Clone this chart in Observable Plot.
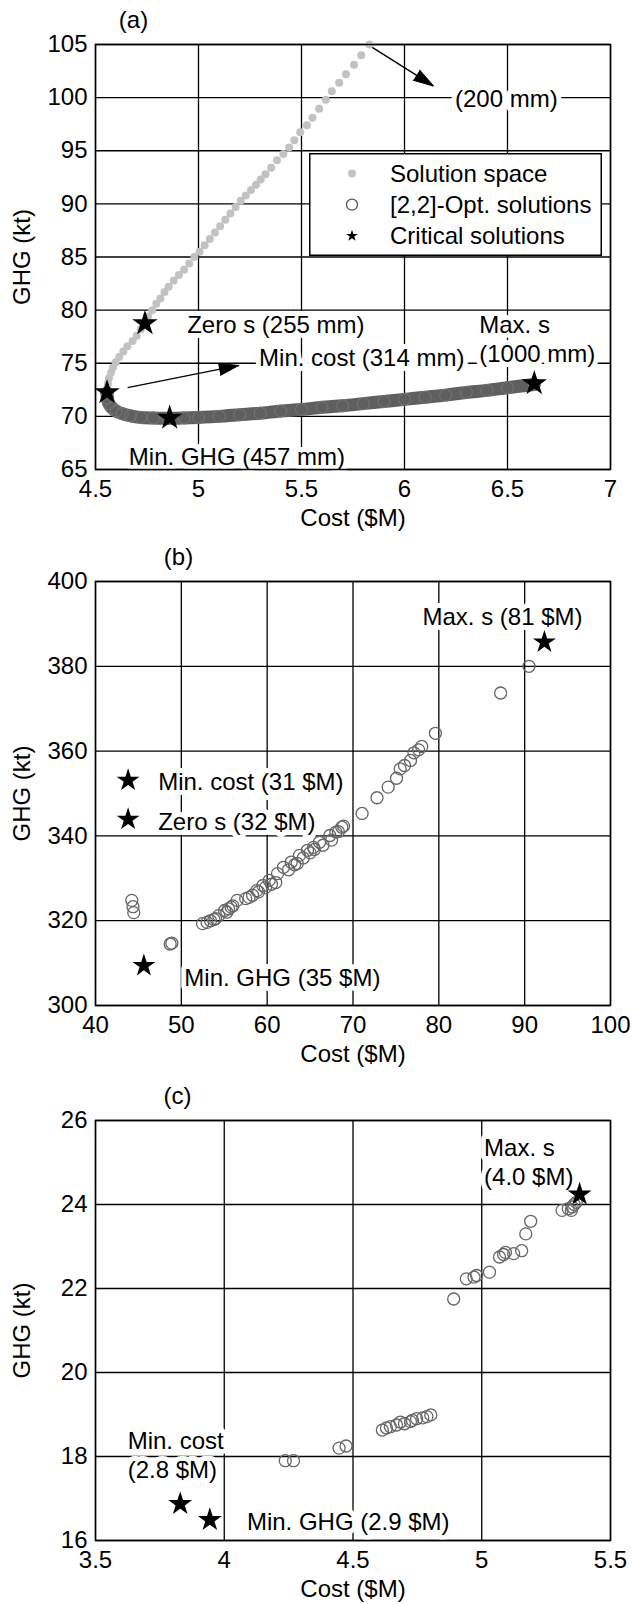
<!DOCTYPE html>
<html><head><meta charset="utf-8">
<script src="https://cdn.jsdelivr.net/npm/d3@7"></script>
<script src="https://cdn.jsdelivr.net/npm/@observablehq/plot@0.6"></script>
<style>
body{margin:0;background:#fff;}
#wrap{position:relative;width:632px;}
#wrap svg{display:block;}
</style></head><body><div id="wrap"></div>
<script>
// ---------- Panel (a) data ----------
const xTicksA = [4.5, 5, 5.5, 6, 6.5, 7];
const yTicksA = [65, 70, 75, 80, 85, 90, 95, 100, 105];
const solutionSpaceA = [
  [5.83,105.0],[5.79,104.0],[5.755,103.1],[5.716,102.2],[5.683,101.4],[5.647,100.6],[5.618,99.8],[5.586,98.95],
  [5.553,98.1],[5.526,97.4],[5.494,96.75],[5.465,96.0],[5.44,95.3],[5.412,94.7],[5.381,94.1],[5.353,93.4],
  [5.325,92.8],[5.302,92.3],[5.279,91.8],[5.255,91.3],[5.23,90.8],[5.205,90.3],[5.18,89.7],[5.155,89.1],
  [5.13,88.5],[5.105,87.9],[5.08,87.3],[5.055,86.7],[5.03,86.1],[5.005,85.5],[4.98,85.0],[4.955,84.4],
  [4.93,83.8],[4.905,83.3],[4.88,82.8],[4.855,82.2],[4.835,81.7],[4.815,81.1],[4.795,80.6],[4.775,80.0],
  [4.755,79.4],[4.74,78.8],[4.72,78.2],[4.70,77.6],[4.68,77.1],[4.655,76.6],[4.635,76.1],[4.615,75.6],
  [4.598,75.1],[4.585,74.6],[4.575,74.1],[4.565,73.6],[4.56,73.1],[4.556,72.6],[4.555,72.2]
].map(([cost, ghg]) => ({cost, ghg}));
const optimalA = [
  [4.556,72.2],[4.558,71.7],[4.565,71.2],[4.58,70.8],[4.60,70.5],[4.63,70.25],[4.67,70.05],[4.72,69.9],
  [4.78,69.85],[4.85,69.82],[4.93,69.85],[5.0,69.9],[5.1,70.0],[5.2,70.15],[5.3,70.3],[5.4,70.5],
  [5.5,70.65],[5.6,70.85],[5.7,71.0],[5.8,71.2],[5.9,71.4],[6.0,71.6],[6.1,71.8],[6.2,72.0],
  [6.3,72.25],[6.4,72.45],[6.5,72.7],[6.63,73.0]
].map(([cost, ghg]) => ({cost, ghg}));
const criticalA = [
  {name: "Zero s", cost: 4.74, ghg: 78.75},
  {name: "Min. cost", cost: 4.556, ghg: 72.25},
  {name: "Min. GHG", cost: 4.86, ghg: 69.85},
  {name: "Max. s", cost: 6.63, ghg: 73.1}
];
const labelsA = [
  {text: "(200 mm)", cost: 6.245, ghg: 100.0},
  {text: "Zero s (255 mm)", cost: 4.945, ghg: 78.7},
  {text: "Min. cost (314 mm)", cost: 5.294, ghg: 75.6},
  {text: "Max. s\n(1000 mm)", cost: 6.363, ghg: 77.35},
  {text: "Min. GHG (457 mm)", cost: 4.662, ghg: 66.3}
];
const arrowsA = [
  {cost1: 5.83, ghg1: 104.9, cost2: 6.14, ghg2: 101.1},
  {cost1: 4.656, ghg1: 72.7, cost2: 5.196, ghg2: 74.8}
];

// ---------- Panel (b) data ----------
const xTicksB = [40, 50, 60, 70, 80, 90, 100];
const yTicksB = [300, 320, 340, 360, 380, 400];
const optimalB = [
  [90.5,380.0],[87.2,373.7],[79.6,364.2],[78.0,361.1],[77.65,360.3],[77.1,359.6],[76.7,357.8],[76.0,356.6],
  [75.5,355.8],[75.07,353.6],[74.1,351.5],[72.8,349.0],[71.06,345.3],[68.7,342.05],[68.9,342.3],[68.3,341.0],
  [68.0,340.9],[67.5,339.0],[67.3,340.1],[66.5,337.8],[66.1,338.5],[65.5,336.8],[65.4,337.3],[65.0,336.0],
  [64.7,336.6],[64.2,334.8],[63.76,335.4],[63.5,333.5],[63.2,333.2],[62.8,333.8],[62.5,332.0],[61.9,332.6],
  [61.2,331.1],[61.0,329.0],[60.5,328.6],[60.24,329.5],[59.8,327.8],[59.5,328.3],[59.0,326.8],[58.8,327.1],
  [58.3,326.0],[57.9,325.5],[57.5,325.2],[56.5,324.8],[56.0,323.5],[55.8,323.2],[55.5,322.8],[55.3,322.0],
  [55.05,322.4],[54.35,321.2],[54.0,320.5],[53.8,320.3],[53.4,320.0],[53.0,319.6],[52.47,319.3],
  [48.7,314.5],[48.9,314.7],[44.23,324.8],[44.37,323.3],[44.46,321.9]
].map(([cost, ghg]) => ({cost, ghg}));
const criticalB = [
  {name: "Max. s", cost: 92.3, ghg: 385.7},
  {name: "Min. cost", cost: 43.8, ghg: 353.1},
  {name: "Zero s", cost: 43.8, ghg: 343.9},
  {name: "Min. GHG", cost: 45.64, ghg: 309.4}
];
const labelsB = [
  {text: "Max. s (81 $M)", cost: 78.1, ghg: 392.0},
  {text: "Min. cost (31 $M)", cost: 47.3, ghg: 353.1},
  {text: "Zero s (32 $M)", cost: 47.3, ghg: 343.6},
  {text: "Min. GHG (35 $M)", cost: 50.35, ghg: 306.7}
];

// ---------- Panel (c) data ----------
const xTicksC = [3.5, 4, 4.5, 5, 5.5];
const yTicksC = [16, 18, 20, 22, 24, 26];
const optimalC = [
  [4.891,21.75],[4.94,22.23],[4.97,22.27],[4.98,22.31],[5.03,22.39],[5.069,22.75],[5.085,22.81],[5.092,22.86],
  [5.124,22.83],[5.155,22.9],[5.171,23.3],[5.19,23.6],[5.312,23.86],[5.336,23.9],[5.348,23.86],[5.351,23.94],
  [5.359,24.0],[5.367,24.05],
  [4.237,17.9],[4.269,17.9],[4.446,18.2],[4.473,18.25],[4.614,18.63],[4.63,18.68],[4.645,18.71],[4.669,18.75],
  [4.684,18.82],[4.70,18.78],[4.723,18.83],[4.731,18.86],[4.747,18.9],[4.771,18.92],[4.787,18.95],[4.802,18.99]
].map(([cost, ghg]) => ({cost, ghg}));
const criticalC = [
  {name: "Max. s", cost: 5.38, ghg: 24.24},
  {name: "Min. cost", cost: 3.829, ghg: 16.87},
  {name: "Min. GHG", cost: 3.944, ghg: 16.49}
];
const labelsC = [
  {text: "Max. s\n(4.0 $M)", cost: 5.009, ghg: 25.02},
  {text: "Min. cost\n(2.8 $M)", cost: 3.625, ghg: 18.05},
  {text: "Min. GHG (2.9 $M)", cost: 4.088, ghg: 16.48}
];

// ---------- Drawing ----------
const FONT = "'Liberation Sans', Arial, Helvetica, sans-serif";
const FS = 24;
const fmt = d => String(d);

function panel(o) {
  return Plot.plot({
    width: 632, height: o.height,
    marginLeft: 95, marginRight: 22, marginTop: o.marginTop, marginBottom: o.marginBottom,
    style: {fontFamily: FONT, fontSize: FS + "px", color: "black", background: "white", overflow: "visible"},
    x: {domain: o.xDomain},
    y: {domain: o.yDomain},
    marks: [
      Plot.gridX(o.xTicks, {stroke: "black", strokeOpacity: 1, strokeWidth: 1.3}),
      Plot.gridY(o.yTicks, {stroke: "black", strokeOpacity: 1, strokeWidth: 1.3}),
      Plot.axisX(o.xTicks, {tickSize: 0, tickPadding: 10, label: null, fontSize: FS, tickFormat: fmt}),
      Plot.axisY(o.yTicks, {tickSize: 0, tickPadding: 8, label: null, fontSize: FS, tickFormat: fmt}),
      Plot.text(o.labels, {x: "cost", y: "ghg", text: "text", textAnchor: "start", lineAnchor: "middle",
        lineHeight: 1.2, fill: "black", stroke: "white", strokeWidth: 10, paintOrder: "stroke", fontSize: FS}),
      ...o.marks,
      Plot.frame({stroke: "black", strokeWidth: 1.5}),
      Plot.text([o.tag], {frameAnchor: "top-left", dx: o.tagDx, dy: -24, textAnchor: "middle", lineAnchor: "middle", fontSize: FS}),
      Plot.text(["Cost ($M)"], {frameAnchor: "bottom", dy: 49, lineAnchor: "middle", fontSize: FS}),
      Plot.text(["GHG (kt)"], {frameAnchor: "left", dx: -73, rotate: -90, textAnchor: "middle", lineAnchor: "middle", fontSize: FS})
    ]
  });
}

const optsA = {
  height: 530, marginTop: 44, marginBottom: 61,
  xDomain: [4.5, 7], yDomain: [65, 105], xTicks: xTicksA, yTicks: yTicksA,
  tag: "(a)", tagDx: 38, labels: labelsA
};
const baseMarksA = [
  Plot.link(arrowsA, {x1: "cost1", y1: "ghg1", x2: "cost2", y2: "ghg2", stroke: "black", strokeWidth: 1.4}),
  Plot.dot(solutionSpaceA, {x: "cost", y: "ghg", r: 4, fill: "#c2c2c2"}),
  Plot.line(optimalA, {x: "cost", y: "ghg", stroke: "#5f5f5f", strokeWidth: 13, curve: "catmull-rom"}),
  Plot.dot(optimalA, {x: "cost", y: "ghg", r: 6, stroke: "#767676", strokeWidth: 1, fill: "none"}),
  Plot.dot(criticalA, {x: "cost", y: "ghg", symbol: "star", r: 8, fill: "black"})
];
// first pass to obtain the scales, then orient the filled arrow heads along each shaft
const probeA = panel({...optsA, marks: baseMarksA});
const sxA = probeA.scale("x"), syA = probeA.scale("y");
const headsA = arrowsA.map(d => {
  const dx = sxA.apply(d.cost2) - sxA.apply(d.cost1);
  const dy = syA.apply(d.ghg2) - syA.apply(d.ghg1);
  return {cost: d.cost2, ghg: d.ghg2, angle: Math.atan2(dx, -dy) * 180 / Math.PI};
});
const chartA = panel({...optsA, marks: [
  ...baseMarksA,
  Plot.vector(headsA, {x: "cost", y: "ghg", rotate: "angle", length: 20, r: 6, shape: "spike", anchor: "end", fill: "black", stroke: "black", strokeWidth: 1})
]});

const chartB = panel({
  height: 545, marginTop: 51, marginBottom: 70,
  xDomain: [40, 100], yDomain: [300, 400], xTicks: xTicksB, yTicks: yTicksB,
  tag: "(b)", tagDx: 83, labels: labelsB,
  marks: [
    Plot.dot(optimalB, {x: "cost", y: "ghg", r: 6, stroke: "#666", strokeWidth: 1.3, fill: "none"}),
    Plot.dot(criticalB, {x: "cost", y: "ghg", symbol: "star", r: 7.2, fill: "black"})
  ]
});

const chartC = panel({
  height: 529, marginTop: 45, marginBottom: 64,
  xDomain: [3.5, 5.5], yDomain: [16, 26], xTicks: xTicksC, yTicks: yTicksC,
  tag: "(c)", tagDx: 82, labels: labelsC,
  marks: [
    Plot.dot(optimalC, {x: "cost", y: "ghg", r: 6, stroke: "#666", strokeWidth: 1.3, fill: "none"}),
    Plot.dot(criticalC, {x: "cost", y: "ghg", symbol: "star", r: 7.5, fill: "black"})
  ]
});

const wrap = document.getElementById("wrap");
wrap.append(chartA, chartB, chartC);

// Legend for panel (a), overlaid inside the plot area
const legendItems = [
  {label: "Solution space", kind: "space"},
  {label: "[2,2]-Opt. solutions", kind: "opt"},
  {label: "Critical solutions", kind: "crit"}
];
const lg = d3.create("svg").attr("width", 293).attr("height", 103)
  .style("position", "absolute").style("left", "309px").style("top", "153px")
  .style("font-family", FONT).style("font-size", FS + "px");
lg.append("rect").attr("x", 0.75).attr("y", 0.75).attr("width", 291.5).attr("height", 101.5)
  .attr("fill", "white").attr("stroke", "black").attr("stroke-width", 1.5);
legendItems.forEach((d, i) => {
  const cy = 20.5 + i * 31.2;
  if (d.kind === "space") lg.append("circle").attr("cx", 43).attr("cy", cy).attr("r", 4).attr("fill", "#c2c2c2");
  if (d.kind === "opt") lg.append("circle").attr("cx", 43).attr("cy", cy).attr("r", 5.5).attr("fill", "none").attr("stroke", "#555").attr("stroke-width", 1.3);
  if (d.kind === "crit") lg.append("path").attr("transform", `translate(43,${cy})`).attr("d", d3.symbol(d3.symbolStar, 42)()).attr("fill", "black");
  lg.append("text").attr("x", 81).attr("y", cy).attr("dy", "0.35em").text(d.label);
});
wrap.append(lg.node());
</script></body></html>
